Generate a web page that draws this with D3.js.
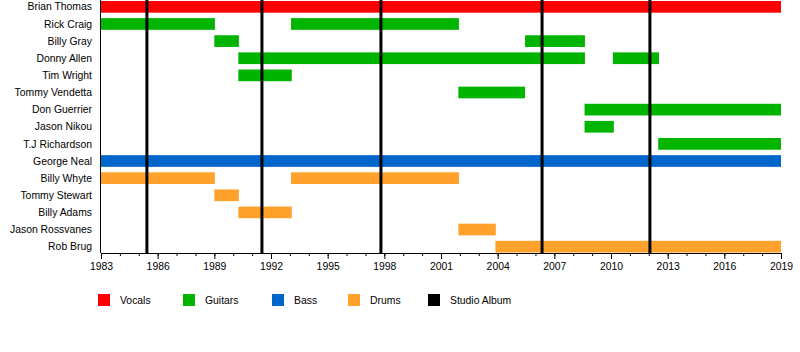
<!DOCTYPE html>
<html>
<head>
<meta charset="utf-8">
<script src="https://cdn.jsdelivr.net/npm/d3@7/dist/d3.min.js"></script>
<style>
  body { margin: 0; background: #fff; }
  svg text { font-family: "Liberation Sans", Arial, sans-serif; fill: #000; }
</style>
</head>
<body>
<svg id="chart" width="800" height="352"></svg>
<script>
// band members, top to bottom
const members = ['Brian Thomas', 'Rick Craig', 'Billy Gray', 'Donny Allen', 'Tim Wright',
  'Tommy Vendetta', 'Don Guerrier', 'Jason Nikou', 'T.J Richardson', 'George Neal',
  'Billy Whyte', 'Tommy Stewart', 'Billy Adams', 'Jason Rossvanes', 'Rob Brug'];

// [member, role, from, to]
const periods = [
  ['Brian Thomas', 'Vocals', 1983, 2019],
  ['Rick Craig', 'Guitars', 1983, 1989.03],
  ['Rick Craig', 'Guitars', 1993.06, 2001.95],
  ['Billy Gray', 'Guitars', 1989.0, 1990.3],
  ['Billy Gray', 'Guitars', 2005.45, 2008.62],
  ['Donny Allen', 'Guitars', 1990.27, 2008.62],
  ['Donny Allen', 'Guitars', 2010.1, 2012.54],
  ['Tim Wright', 'Guitars', 1990.27, 1993.1],
  ['Tommy Vendetta', 'Guitars', 2001.92, 2005.45],
  ['Don Guerrier', 'Guitars', 2008.6, 2019],
  ['Jason Nikou', 'Guitars', 2008.6, 2010.15],
  ['T.J Richardson', 'Guitars', 2012.5, 2019],
  ['George Neal', 'Bass', 1983, 2019],
  ['Billy Whyte', 'Drums', 1983, 1989.03],
  ['Billy Whyte', 'Drums', 1993.06, 2001.95],
  ['Tommy Stewart', 'Drums', 1989.0, 1990.3],
  ['Billy Adams', 'Drums', 1990.27, 1993.1],
  ['Jason Rossvanes', 'Drums', 2001.92, 2003.9],
  ['Rob Brug', 'Drums', 2003.88, 2019]
];

// studio album release dates
const albums = [1985.43, 1991.52, 1997.82, 2006.35, 2012.06];

const legendItems = ['Vocals', 'Guitars', 'Bass', 'Drums', 'Studio Album'];
const legendColors = ['#ff0000', '#00b400', '#0066cc', '#ffa12b', '#000000'];
const legendX = [98, 183, 272, 348, 428];

const yearTicks = d3.range(1983, 2020, 3);

const svg = d3.select('#chart');
const roleColor = d3.scaleOrdinal().domain(legendItems).range(legendColors);

const x = d3.scaleLinear().domain([1983, 2019]).range([101, 781]);
const y = d3.scaleBand().domain(members).range([0, 253.5])
  .paddingInner(0.317).paddingOuter(0.058);
const axisY = 253;

// member names
svg.append('g')
  .selectAll('text')
  .data(members)
  .enter()
  .append('text')
  .attr('x', 92)
  .attr('y', d => y(d) + y.bandwidth() / 2)
  .attr('dy', '0.35em')
  .attr('text-anchor', 'end')
  .style('font-size', '10.4px')
  .text(d => d);

// bars
svg.append('g')
  .selectAll('rect')
  .data(periods)
  .enter()
  .append('rect')
  .attr('x', d => x(d[2]))
  .attr('y', d => y(d[0]))
  .attr('width', d => x(d[3]) - x(d[2]))
  .attr('height', y.bandwidth())
  .attr('fill', d => roleColor(d[1]));

// studio albums
svg.append('g')
  .selectAll('line')
  .data(albums)
  .enter()
  .append('line')
  .attr('x1', d => x(d)).attr('x2', d => x(d))
  .attr('y1', 0).attr('y2', axisY)
  .attr('stroke', '#000')
  .attr('stroke-width', 3);

// left edge
svg.append('line')
  .attr('x1', 100.5).attr('x2', 100.5)
  .attr('y1', 0).attr('y2', axisY)
  .attr('stroke', '#000');

// minor ticks every year
svg.append('g')
  .attr('transform', 'translate(0,' + axisY + ')')
  .call(d3.axisBottom(x).tickValues(d3.range(1983, 2020)).tickSize(3).tickFormat(''))
  .call(g => g.select('.domain').remove());

// major ticks + labels
svg.append('g')
  .attr('transform', 'translate(0,' + axisY + ')')
  .call(d3.axisBottom(x).tickValues(yearTicks).tickSize(6).tickSizeOuter(0).tickFormat(d3.format('d')))
  .call(g => g.selectAll('text').style('font-size', '10.4px').attr('fill', '#000').attr('y', 10))
  .call(g => g.selectAll('line, path').attr('stroke', '#000'))
  .attr('font-family', null);

// legend
const legend = svg.append('g')
  .selectAll('g')
  .data(legendItems)
  .enter()
  .append('g')
  .attr('transform', (d, i) => 'translate(' + legendX[i] + ',294)');

legend.append('rect')
  .attr('width', 12).attr('height', 12)
  .attr('fill', (d, i) => legendColors[i]);

legend.append('text')
  .attr('x', 22).attr('y', 6)
  .attr('dy', '0.35em')
  .style('font-size', '10.4px')
  .text(d => d);
</script>
</body>
</html>
